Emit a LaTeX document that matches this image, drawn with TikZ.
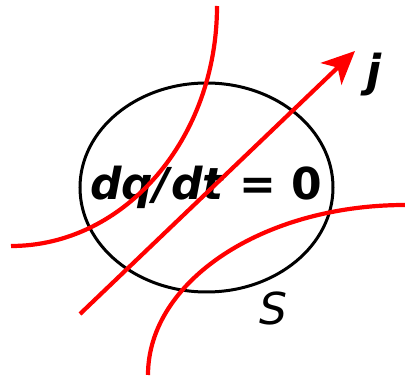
\documentclass[tikz,border=0pt]{standalone}
\usepackage{fontspec}
\setmainfont{DejaVu Sans}
\usetikzlibrary{arrows.meta}
\begin{document}
\begin{tikzpicture}[x=1pt,y=-1pt,
  surface/.style={draw=black,line width=3pt},
  flowline/.style={draw=red,line width=4.2pt},
  flowarrow/.style={draw=red,line width=4.2pt,-{Stealth[length=33pt,width=30pt,inset=9pt]}},
  biglabel/.style={font=\fontsize{44}{50}\selectfont\bfseries,inner sep=0pt},
  surflabel/.style={font=\fontsize{44}{50}\selectfont\itshape,inner sep=0pt}]
\useasboundingbox (0,0) rectangle (405,377);
\draw[surface] (206.5,187.5) ellipse [x radius=126.5pt, y radius=104.5pt];
\node[biglabel,anchor=base] (rate) at (206,200) {\itshape dq/\kern2pt dt\upshape{} = 0};
\node[biglabel,anchor=base] (jlabel) at (374,87) {\itshape j};
\node[surflabel,anchor=base] (slabel) at (273,325) {S};
\draw[flowline] (217,6) .. controls (217,138.6) and (124.8,246) .. (11,246);
\draw[flowline] (148,375) .. controls (148,281.1) and (263.1,205) .. (405,205);
\coordinate (jstart) at (80,314);
\coordinate (jtip) at (355,51);
\draw[flowarrow] (jstart) -- (jtip);
\end{tikzpicture}
\end{document}
